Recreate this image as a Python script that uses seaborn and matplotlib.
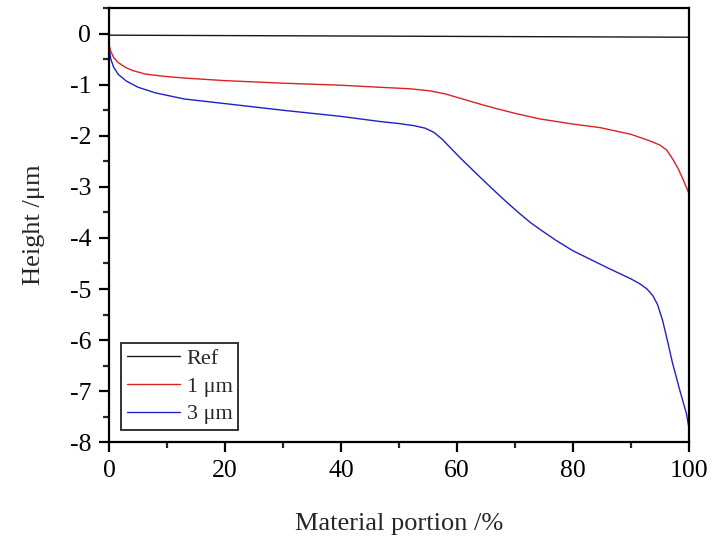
import numpy as np
import pandas as pd
import matplotlib
matplotlib.use("Agg")
import matplotlib.pyplot as plt
from matplotlib.ticker import MultipleLocator
import seaborn as sns

# Bearing-area style profiles
ref_x = [0, 50, 100]
ref_y = [-0.03, -0.05, -0.07]

um1_x = [0, 0.3, 0.8, 1.5, 2.8, 4, 6.2, 9, 13, 20, 30, 40, 46.7, 52, 55.3, 58,
         61, 64, 66.9, 70, 74.3, 80, 84.7, 90, 93.3, 95, 96.2, 97.2, 98.2, 99, 100]
um1_y = [-0.22, -0.35, -0.47, -0.56, -0.66, -0.72, -0.79, -0.83, -0.87, -0.92,
         -0.97, -1.01, -1.05, -1.08, -1.12, -1.18, -1.28, -1.38, -1.47, -1.56,
         -1.67, -1.77, -1.84, -1.97, -2.1, -2.18, -2.28, -2.45, -2.65, -2.85, -3.12]

um3_x = [0, 0.3, 0.8, 1.6, 3, 5, 8, 13, 20, 30, 40, 46.7, 50, 52.5, 54.5, 56,
         57.5, 59, 61, 64, 66.5, 68.6, 70.8, 72.7, 74.3, 77, 80, 85.9, 90, 91.6,
         92.8, 93.8, 94.6, 95.5, 96.4, 97.2, 98.5, 99.6, 100]
um3_y = [-0.3, -0.5, -0.66, -0.8, -0.93, -1.05, -1.16, -1.28, -1.37, -1.5,
         -1.62, -1.72, -1.76, -1.8, -1.85, -1.93, -2.07, -2.25, -2.48, -2.81,
         -3.08, -3.3, -3.52, -3.7, -3.83, -4.04, -4.25, -4.58, -4.8, -4.9,
         -5.0, -5.13, -5.3, -5.62, -6.05, -6.45, -7.0, -7.44, -7.7]

series_names = ["Ref", "1 \u03bcm", "3 \u03bcm"]
series_colors = ["#1a1a1a", "#d92323", "#2020c8"]

frames = []
for name, xs, ys in zip(series_names, [ref_x, um1_x, um3_x], [ref_y, um1_y, um3_y]):
    frames.append(pd.DataFrame({"x": xs, "y": ys, "series": name}))
df = pd.concat(frames, ignore_index=True)

sns.set_theme(style="ticks")
plt.rcParams["font.family"] = ["Liberation Serif", "DejaVu Serif"]

fig = plt.figure(figsize=(7.13, 5.40), dpi=100)
ax = fig.add_axes([0.153, 0.181, 0.813, 0.804])

sns.lineplot(data=df, x="x", y="y", hue="series", palette=dict(zip(series_names, series_colors)),
             sort=False, estimator=None, linewidth=1.0, ax=ax)

ax.set_xlim(0, 100)
ax.set_ylim(-8, 0.5)
ax.xaxis.set_major_locator(MultipleLocator(20))
ax.xaxis.set_minor_locator(MultipleLocator(10))
ax.yaxis.set_minor_locator(MultipleLocator(0.5))
ax.set_yticks(range(-8, 1))
ax.set_yticklabels([str(v) for v in range(-8, 1)])

for sp in ax.spines.values():
    sp.set_linewidth(1.6)
    sp.set_color("black")
ax.tick_params(which="major", direction="out", length=7, width=1.6, labelsize=18.5,
               colors="black", pad=6)
ax.tick_params(which="minor", direction="out", length=4, width=1.6)

ax.set_xlabel("Material portion /%", fontsize=19, labelpad=22)
ax.set_ylabel("Height /\u03bcm", fontsize=19, labelpad=18)

leg = ax.legend(loc="lower left", fontsize=16, frameon=True, fancybox=False,
                edgecolor="black", handlelength=2.4, handletextpad=0.3,
                borderpad=0.25, labelspacing=0.32, borderaxespad=0.55)
leg.get_frame().set_linewidth(1.4)

fig.savefig("out.png", dpi=100)
